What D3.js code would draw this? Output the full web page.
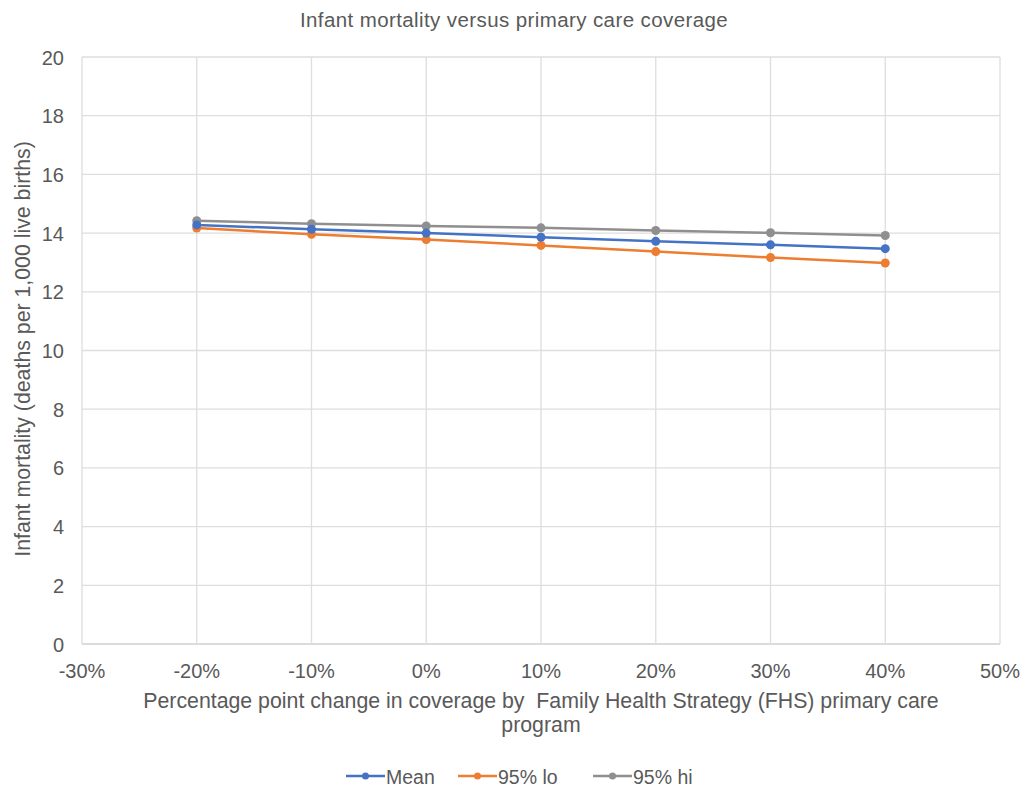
<!DOCTYPE html>
<html>
<head>
<meta charset="utf-8">
<script src="https://cdn.jsdelivr.net/npm/d3@7"></script>
<style>
  body { margin: 0; background: #fff; }
  text { font-family: "Liberation Sans", Arial, sans-serif; fill: #595959; white-space: pre; }
</style>
</head>
<body>
<div id="plot"></div>
<script>
var width = 1025;
var height = 792;

// data
var coverage = [-0.2, -0.1, 0, 0.1, 0.2, 0.3, 0.4];
var mean_vals = [14.28, 14.13, 14.0, 13.86, 13.72, 13.6, 13.47];
var lo_vals = [14.17, 13.96, 13.78, 13.58, 13.37, 13.17, 12.98];
var hi_vals = [14.42, 14.32, 14.24, 14.18, 14.09, 14.01, 13.92];
var series_names = ['Mean', '95% lo', '95% hi'];
var series_colors = ['#4472C4', '#ED7D31', '#8f8f8f'];
var x_ticks = [-0.3, -0.2, -0.1, 0, 0.1, 0.2, 0.3, 0.4, 0.5];
var y_ticks = [0, 2, 4, 6, 8, 10, 12, 14, 16, 18, 20];

var series = [mean_vals, lo_vals, hi_vals];

var canvas = d3.select('#plot')
    .append('svg')
    .attr('width', width)
    .attr('height', height);

var x = d3.scaleLinear().domain([-0.3, 0.5]).range([82, 1000]);
var y = d3.scaleLinear().domain([0, 20]).range([644, 57]);

// title
canvas.append('text')
    .attr('x', 514)
    .attr('y', 27)
    .attr('text-anchor', 'middle')
    .attr('font-size', 20.5)
    .attr('letter-spacing', 0.4)
    .text('Infant mortality versus primary care coverage');

// grid
canvas.selectAll('line.ygrid')
    .data(y_ticks)
    .enter()
    .append('line')
    .attr('x1', x(-0.3)).attr('x2', x(0.5))
    .attr('y1', d => y(d)).attr('y2', d => y(d))
    .attr('stroke', d => d === 0 ? '#cfcfcf' : '#dedede')
    .attr('stroke-width', 1.3);

canvas.selectAll('line.xgrid')
    .data(x_ticks)
    .enter()
    .append('line')
    .attr('x1', d => x(d)).attr('x2', d => x(d))
    .attr('y1', y(0)).attr('y2', y(20))
    .attr('stroke', '#dedede')
    .attr('stroke-width', 1.3);

// tick labels
canvas.selectAll('text.ytick')
    .data(y_ticks)
    .enter()
    .append('text')
    .attr('x', 64)
    .attr('y', d => y(d) + 7.5)
    .attr('text-anchor', 'end')
    .attr('font-size', 20)
    .text(d => d);

var pct = d3.format('.0%');
canvas.selectAll('text.xtick')
    .data(x_ticks)
    .enter()
    .append('text')
    .attr('x', d => x(d))
    .attr('y', 678)
    .attr('text-anchor', 'middle')
    .attr('font-size', 20)
    .text(d => pct(d).replace('−', '-'));

// axis titles
canvas.append('text')
    .attr('transform', 'translate(30,' + 349 + ') rotate(-90)')
    .attr('text-anchor', 'middle')
    .attr('font-size', 21.3)
    .text('Infant mortality (deaths per 1,000 live births)');

canvas.append('text')
    .attr('x', 541)
    .attr('y', 708)
    .attr('text-anchor', 'middle')
    .attr('font-size', 21.3)
    .text('Percentage point change in coverage by  Family Health Strategy (FHS) primary care');
canvas.append('text')
    .attr('x', 541)
    .attr('y', 732)
    .attr('text-anchor', 'middle')
    .attr('font-size', 21.3)
    .text('program');

// lines + markers (hi drawn first so others lie on top like the picture)
var line_gen = d3.line()
    .x((d, i) => x(coverage[i]))
    .y(d => y(d));

[2, 1, 0].forEach(function(s) {
    canvas.append('path')
        .attr('d', line_gen(series[s]))
        .attr('fill', 'none')
        .attr('stroke', series_colors[s])
        .attr('stroke-width', 2.5);
    canvas.selectAll('circle.s' + s)
        .data(series[s])
        .enter()
        .append('circle')
        .attr('cx', (d, i) => x(coverage[i]))
        .attr('cy', d => y(d))
        .attr('r', 4.5)
        .attr('fill', series_colors[s]);
});

// legend
var legend_x = [346, 458, 593];
var legend = canvas.selectAll('g.legend')
    .data(series_names)
    .enter()
    .append('g')
    .attr('transform', (d, i) => 'translate(' + legend_x[i] + ',776)');
legend.append('line')
    .attr('x1', 0).attr('x2', 39)
    .attr('stroke', (d, i) => series_colors[i])
    .attr('stroke-width', 2.5);
legend.append('circle')
    .attr('cx', 19.5).attr('r', 3.5)
    .attr('fill', (d, i) => series_colors[i]);
legend.append('text')
    .attr('x', 40)
    .attr('y', 7.5)
    .attr('font-size', 19.5)
    .text(d => d);
</script>
</body>
</html>
